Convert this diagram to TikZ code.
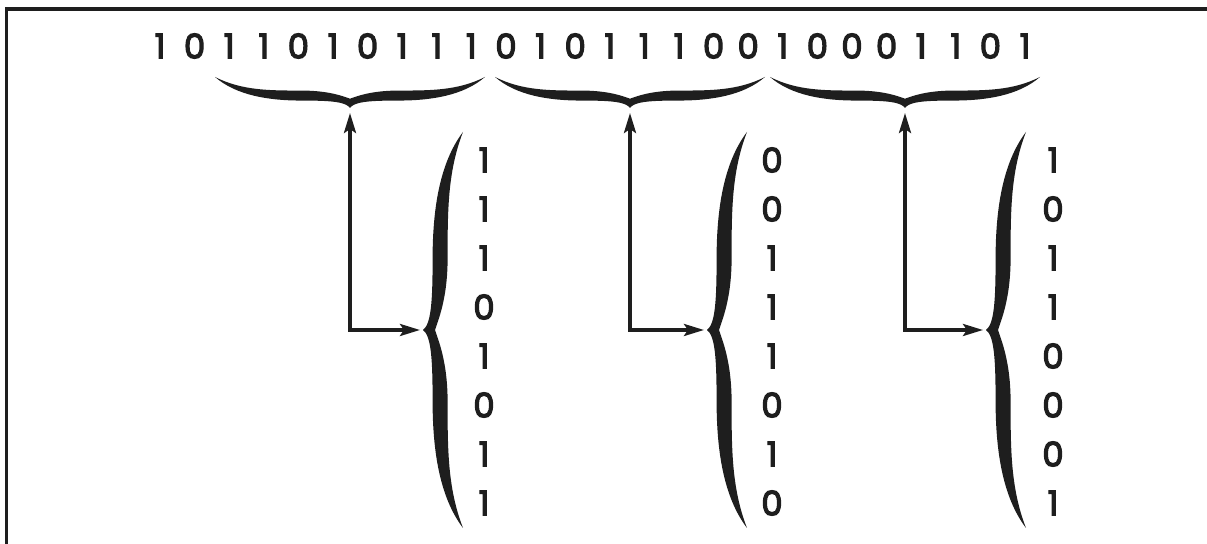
\documentclass[tikz,border=0pt]{standalone}
\usepackage{fontspec}
\setmainfont{Poppins}[FakeBold=3.5]
\usetikzlibrary{arrows.meta}
\definecolor{ink}{HTML}{1E1E1E}
\newcommand{\calbrace}[6]{% centre x, y, rotation, half length, depth, thickness
  \begin{scope}[shift={(#1,#2)},rotate=#3]
    \fill[ink] (-#4,0)
      .. controls ({-0.84*#4},{-0.6*#5}) and ({-0.6*#4},{-0.76*#5}) .. ({-0.36*#4},{-0.76*#5})
      .. controls ({-0.14*#4},{-0.76*#5}) and ({-0.03*#4},{-0.8*#5}) .. (0,-#5)
      .. controls ({0.03*#4},{-0.8*#5}) and ({0.14*#4},{-0.76*#5}) .. ({0.36*#4},{-0.76*#5})
      .. controls ({0.6*#4},{-0.76*#5}) and ({0.84*#4},{-0.6*#5}) .. (#4,0)
      .. controls ({0.8*#4},{-0.76*#5+#6}) and ({0.6*#4},{-0.76*#5+#6}) .. ({0.36*#4},{-0.76*#5+#6})
      .. controls ({0.16*#4},{-0.76*#5+#6}) and ({0.05*#4},{-0.62*#5}) .. (0,{-0.7*#5})
      .. controls ({-0.05*#4},{-0.62*#5}) and ({-0.16*#4},{-0.76*#5+#6}) .. ({-0.36*#4},{-0.76*#5+#6})
      .. controls ({-0.6*#4},{-0.76*#5+#6}) and ({-0.8*#4},{-0.76*#5+#6}) .. (-#4,0) -- cycle;
  \end{scope}}

\begin{document}
\begin{tikzpicture}[x=0.5pt,y=0.5pt,
  bit/.style={font=\fontsize{17}{19}\selectfont,text=ink,inner sep=0pt},
  link/.style={draw=ink,line width=1.7pt,{Stealth[length=10pt,width=6pt,inset=2pt]}-{Stealth[length=10pt,width=6pt,inset=2pt]}}]
\useasboundingbox (0,0) rectangle (1207,-544);
\draw[ink,line width=1.6pt] (6.5,-544) |- (1207,-9);
% transmitted word
\foreach \b [count=\i from 0] in {1,0,1,1,0,1,0,1,1,1,0,1,0,1,1,1,0,0,1,0,0,0,1,1,0,1}
  \node[bit] (w\i) at ({160+34.6*\i},-46) {\b};
% one byte per group: brace x / column brace x / column x / bits top to bottom
\foreach \k/\cx/\bx/\dx/\bits in {1/350/463/484/{1,1,1,0,1,0,1,1},
                                  2/630/747/772/{0,0,1,1,1,0,1,0},
                                  3/905/1026/1053/{1,0,1,1,0,0,0,1}}{
  \calbrace{\cx}{-77}{0}{135}{31}{10}
  \calbrace{\bx}{-330}{-90}{198}{40}{15}
  \coordinate (top\k) at (\cx,-108);
  \coordinate (side\k) at ({\bx-40},-330);
  \draw[link,shorten <=2.5pt,shorten >=1.5pt] (top\k) |- (side\k);
  \foreach \b [count=\j from 0] in \bits
    \node[bit] (b\k\j) at (\dx,{-160-49*\j}) {\b};
}
\end{tikzpicture}
\end{document}
